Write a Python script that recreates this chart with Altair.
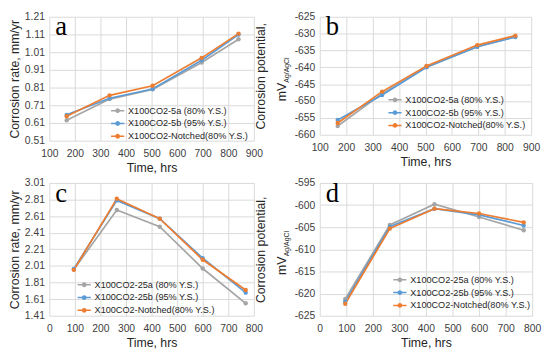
import altair as alt
import pandas as pd

# ---------------- data ----------------
TIME_TOP = [168, 336, 504, 696, 840]
TIME_BOTTOM = [96, 264, 432, 600, 768]

SERIES_TOP = ["X100CO2-5a (80% Y.S.)", "X100CO2-5b (95% Y.S.)", "X100CO2-Notched(80% Y.S.)"]
SERIES_BOTTOM = ["X100CO2-25a (80% Y.S.)", "X100CO2-25b (95% Y.S.)", "X100CO2-Notched(80% Y.S.)"]

RATE_A_5A = [0.625, 0.745, 0.800, 0.952, 1.083]
RATE_A_5B = [0.656, 0.750, 0.802, 0.964, 1.110]
RATE_A_NOTCH = [0.648, 0.766, 0.820, 0.978, 1.115]

POT_B_5A = [-657.4, -647.8, -639.9, -633.9, -630.9]
POT_B_5B = [-655.6, -648.2, -640.0, -633.9, -631.0]
POT_B_NOTCH = [-656.5, -647.2, -639.6, -633.4, -630.6]

RATE_C_25A = [1.967, 2.684, 2.483, 1.979, 1.560]
RATE_C_25B = [1.975, 2.800, 2.580, 2.103, 1.688]
RATE_C_NOTCH = [1.963, 2.820, 2.580, 2.084, 1.720]

POT_D_25A = [-621.2, -604.5, -599.8, -602.7, -605.7]
POT_D_25B = [-621.8, -604.9, -600.8, -602.2, -604.6]
POT_D_NOTCH = [-622.3, -605.3, -600.8, -601.9, -603.9]

X_TICKS_TOP = [100, 200, 300, 400, 500, 600, 700, 800, 900]
X_TICKS_BOTTOM = [0, 100, 200, 300, 400, 500, 600, 700, 800]
Y_TICKS_A = [0.51, 0.61, 0.71, 0.81, 0.91, 1.01, 1.11, 1.21]
Y_TICKS_B = [-660, -655, -650, -645, -640, -635, -630, -625]
Y_TICKS_C = [1.41, 1.61, 1.81, 2.01, 2.21, 2.41, 2.61, 2.81, 3.01]
Y_TICKS_D = [-625, -620, -615, -610, -605, -600, -595]

PANEL_LETTERS = ["a", "b", "c", "d"]
X_TITLE = "Time, hrs"
RATE_TITLE = "Corrosion rate, mm/yr"
POT_TITLE = "Corrosion potential,"
POT_UNIT = ["mV"]
POT_SUB = ["Ag/AgCl"]

COLORS = ["#A5A5A5", "#5B9BD5", "#ED7D31"]

FONT = "Liberation Sans"
SERIF = "Liberation Serif"
LEGEND_PATH = ("M-1,0L1,0"
               "M0.25,0A0.25,0.25,0,1,1,-0.25,0A0.25,0.25,0,1,1,0.25,0"
               "M0.1,0A0.1,0.1,0,1,1,-0.1,0A0.1,0.1,0,1,1,0.1,0")


def make_df(times, names, series):
    rows = []
    for name, vals in zip(names, series):
        for t, v in zip(times, vals):
            rows.append({"time": t, "value": v, "series": name})
    return pd.DataFrame(rows)


def panel(times, names, series, xdom, xticks, ydom, yticks, ylabel_expr, ytitle,
          ytp, w, h, letter, legx, legy, potential=False):
    df = make_df(times, names, series)
    lines = alt.Chart(df).mark_line(
        strokeWidth=1.7,
        point=alt.OverlayMarkDef(filled=True, size=20),
    ).encode(
        x=alt.X("time:Q", scale=alt.Scale(domain=xdom, nice=False, zero=False),
                axis=alt.Axis(values=xticks, title=X_TITLE, format="d",
                              labelPadding=8, titlePadding=3, labelFlush=False,
                              labelOverlap=False)),
        y=alt.Y("value:Q", scale=alt.Scale(domain=ydom, nice=False, zero=False),
                axis=alt.Axis(values=yticks, title=ytitle, labelExpr=ylabel_expr,
                              labelPadding=5, titlePadding=ytp, labelFlush=False,
                              labelOverlap=False)),
        color=alt.Color("series:N", scale=alt.Scale(domain=names, range=COLORS),
                        legend=alt.Legend(title=None, orient="none", legendX=legx,
                                          legendY=legy, symbolType=LEGEND_PATH,
                                          symbolSize=180, symbolStrokeWidth=1.5,
                                          rowPadding=0, labelOffset=3,
                                          labelFontSize=9.3, labelFont=FONT,
                                          labelColor="#262626", labelLimit=300)),
    )
    let = alt.Chart(pd.DataFrame({"t": [letter]})).mark_text(
        font=SERIF, fontSize=27, align="left", baseline="alphabetic", color="#000000"
    ).encode(text="t:N", x=alt.value(6), y=alt.value(19))
    layers = [lines, let]
    if potential:
        mv = alt.Chart(pd.DataFrame({"t": POT_UNIT})).mark_text(
            font=FONT, fontSize=12.5, angle=270, align="left", baseline="alphabetic",
            color="#262626"
        ).encode(text="t:N", x=alt.value(-34), y=alt.value(h * 0.5 + 26))
        sub = alt.Chart(pd.DataFrame({"t": POT_SUB})).mark_text(
            font=FONT, fontSize=7, angle=270, align="left", baseline="alphabetic",
            color="#262626"
        ).encode(text="t:N", x=alt.value(-31), y=alt.value(h * 0.5 + 7))
        layers += [mv, sub]
    return alt.layer(*layers).properties(width=w, height=h)


pa = panel(TIME_TOP, SERIES_TOP, [RATE_A_5A, RATE_A_5B, RATE_A_NOTCH], [100, 900],
           X_TICKS_TOP, [0.51, 1.21], Y_TICKS_A, "format(datum.value, '.2f')",
           RATE_TITLE, 3, 208, 126, PANEL_LETTERS[0], 62, 88)
pb = panel(TIME_TOP, SERIES_TOP, [POT_B_5A, POT_B_5B, POT_B_NOTCH], [100, 900],
           X_TICKS_TOP, [-660, -625], Y_TICKS_B, "toString(datum.value)",
           POT_TITLE, 27, 215, 120, PANEL_LETTERS[1], 69, 77, potential=True)
pc = panel(TIME_BOTTOM, SERIES_BOTTOM, [RATE_C_25A, RATE_C_25B, RATE_C_NOTCH], [0, 800],
           X_TICKS_BOTTOM, [1.41, 3.01], Y_TICKS_C, "format(datum.value, '.2f')",
           RATE_TITLE, 3, 208, 135, PANEL_LETTERS[2], 28, 96)
pd_ = panel(TIME_BOTTOM, SERIES_BOTTOM, [POT_D_25A, POT_D_25B, POT_D_NOTCH], [0, 800],
            X_TICKS_BOTTOM, [-625, -595], Y_TICKS_D, "toString(datum.value)",
            POT_TITLE, 27, 216, 135, PANEL_LETTERS[3], 74, 91, potential=True)

chart = alt.concat(
    pa, pb, pc, pd_, columns=2, spacing={"row": 43, "column": 67},
    bounds="flush", align="each",
).resolve_scale(
    color="independent", x="independent", y="independent"
).resolve_legend(
    color="independent"
).properties(
    padding=0
).configure_view(
    stroke="transparent"
).configure_axis(
    labelFont=FONT, labelFontSize=10.5, labelColor="#404040",
    titleFont=FONT, titleFontSize=12.5, titleFontWeight="normal", titleColor="#262626",
    grid=True, gridColor="#D9D9D9", gridWidth=1, domain=False, ticks=False,
)

chart.save("out.html", embed_options={"renderer": "svg", "actions": False})
